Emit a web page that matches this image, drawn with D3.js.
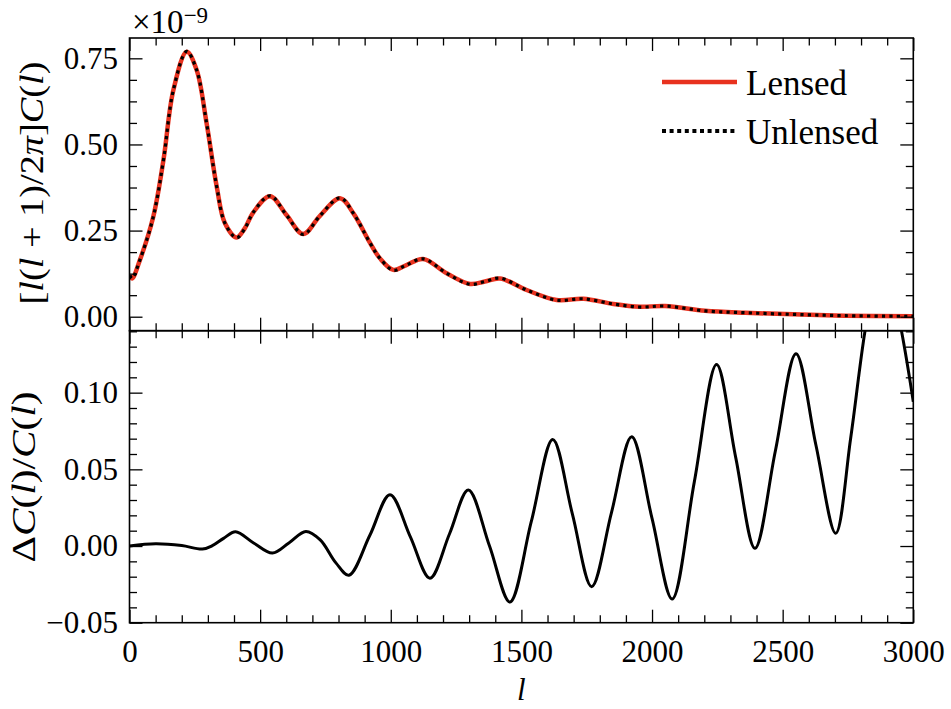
<!DOCTYPE html>
<html>
<head>
<meta charset="utf-8">
<script src="https://cdn.jsdelivr.net/npm/d3@7"></script>
<style>
  html, body { margin: 0; padding: 0; background: #fff; }
  svg { display: block; }
  text { font-family: "Liberation Serif", "Times New Roman", serif; fill: #000; }
</style>
</head>
<body>
<svg id="chart" width="951" height="709"></svg>
<script>
// ---------------- data ----------------
// upper panel: l(l+1)C(l)/2pi in units of 1e-9
const lTop = [2, 10, 40, 91, 130, 168, 219, 257, 295, 334, 365, 410, 440, 474, 538, 601, 665, 729, 806, 857, 920, 958, 1010, 1060, 1124, 1214, 1303, 1360, 1418, 1520, 1635, 1737, 1852, 1954, 2050, 2203, 2356, 2509, 2738, 3000];
const lensedValues = [0.120, 0.111, 0.165, 0.290, 0.455, 0.658, 0.769, 0.716, 0.562, 0.377, 0.272, 0.230, 0.255, 0.303, 0.350, 0.295, 0.240, 0.293, 0.344, 0.300, 0.215, 0.170, 0.136, 0.150, 0.1675, 0.126, 0.095, 0.102, 0.111, 0.0775, 0.0485, 0.052, 0.037, 0.029, 0.031, 0.0175, 0.0116, 0.0078, 0.003, 0.001];
const unlensedValues = [0.120, 0.111, 0.165, 0.290, 0.455, 0.658, 0.770, 0.716, 0.562, 0.377, 0.272, 0.229, 0.254, 0.303, 0.351, 0.295, 0.239, 0.293, 0.345, 0.300, 0.215, 0.170, 0.135, 0.150, 0.168, 0.126, 0.094, 0.102, 0.112, 0.0775, 0.0480, 0.052, 0.037, 0.028, 0.031, 0.0170, 0.0116, 0.0075, 0.003, 0.001];

// lower panel: relative difference Delta C(l)/C(l)
const lBot = [0, 100, 200, 279, 317, 360, 406, 475, 547, 610, 675, 730, 790, 840, 920, 997, 1075, 1150, 1225, 1297, 1378, 1456, 1538, 1620, 1695, 1769, 1845, 1922, 2000, 2077, 2162, 2247, 2320, 2394, 2472, 2551, 2627, 2703, 2760, 2815, 2880, 2955, 3000];
const deltaValues = [0.0, 0.0015, 0.0003, -0.002, 0.0002, 0.005, 0.0093, 0.002, -0.0046, 0.002, 0.0095, 0.004, -0.011, -0.019, 0.007, 0.0335, 0.006, -0.021, 0.008, 0.0365, 0.0, -0.0365, 0.016, 0.0695, 0.021, -0.0265, 0.022, 0.0713, 0.018, -0.0345, 0.042, 0.1183, 0.058, -0.0015, 0.062, 0.1254, 0.066, 0.0083, 0.070, 0.140, 0.200, 0.140, 0.094];

// ticks
const xMajorTicks = [0, 500, 1000, 1500, 2000, 2500, 3000];
const xMinorTicks = [100, 200, 300, 400, 600, 700, 800, 900, 1100, 1200, 1300, 1400, 1600, 1700, 1800, 1900, 2100, 2200, 2300, 2400, 2600, 2700, 2800, 2900];
const yTopMajorTicks = [0, 0.25, 0.5, 0.75];
const yTopMinorTicks = [0.0625, 0.125, 0.1875, 0.3125, 0.375, 0.4375, 0.5625, 0.625, 0.6875];
const yBotMajorTicks = [-0.05, 0, 0.05, 0.10];
const yBotMinorTicks = [-0.04, -0.03, -0.02, -0.01, 0.01, 0.02, 0.03, 0.04, 0.06, 0.07, 0.08, 0.09, 0.11, 0.12, 0.13, 0.14];

const seriesNames = ["Lensed", "Unlensed"];
const seriesColors = ["#e8321f", "#000000"];

// ---------------- layout ----------------
const svg = d3.select("#chart");
const X0 = 129.5, X1 = 913.3;
const TOP0 = 38, MID = 330.7, BOT1 = 622.7;
const MAJ = 13, MIN = 7.5;

const x = d3.scaleLinear().domain([0, 3000]).range([X0, X1]);
const yTop = d3.scaleLinear().domain([-0.0406, 0.809]).range([MID, TOP0]);
const yBot = d3.scaleLinear().domain([-0.05, 0.1404]).range([BOT1, MID]);

const defs = svg.append("defs");
defs.append("clipPath").attr("id", "clipTop").append("rect")
  .attr("x", X0).attr("y", TOP0).attr("width", X1 - X0).attr("height", MID - TOP0);
defs.append("clipPath").attr("id", "clipBot").append("rect")
  .attr("x", X0).attr("y", MID).attr("width", X1 - X0).attr("height", BOT1 - MID);

// ---------------- curves ----------------
const topData = lTop.map((l, i) => ({l, a: lensedValues[i], b: unlensedValues[i]}));
const botData = lBot.map((l, i) => ({l, v: deltaValues[i]}));

const curve = d3.curveCatmullRom.alpha(0.5);
const lineLensed = d3.line().x(d => x(d.l)).y(d => yTop(d.a)).curve(curve);
const lineUnlensed = d3.line().x(d => x(d.l)).y(d => yTop(d.b)).curve(curve);
const lineDelta = d3.line().x(d => x(d.l)).y(d => yBot(d.v)).curve(curve);

const gTop = svg.append("g").attr("clip-path", "url(#clipTop)");
gTop.append("path").datum(topData).attr("d", lineLensed)
  .attr("fill", "none").attr("stroke", seriesColors[0]).attr("stroke-width", 4.5)
  .attr("stroke-linejoin", "round");
gTop.append("path").datum(topData).attr("d", lineUnlensed)
  .attr("fill", "none").attr("stroke", seriesColors[1]).attr("stroke-width", 3.2)
  .attr("stroke-dasharray", "3.2,4.2");

svg.append("g").attr("clip-path", "url(#clipBot)")
  .append("path").datum(botData).attr("d", lineDelta)
  .attr("fill", "none").attr("stroke", "#000").attr("stroke-width", 3)
  .attr("stroke-linejoin", "round");

// ---------------- axes ----------------
function styleAxis(g) {
  g.select(".domain").remove();
  g.selectAll(".tick line").attr("stroke", "#000").attr("stroke-width", 1.3);
  g.attr("font-family", null).attr("font-size", null);
  return g;
}
function addAxis(axisFn, scale, ticks, size, transform, labelled, fmt, pad) {
  const ax = axisFn(scale).tickValues(ticks).tickSize(-size).tickPadding(pad || 0);
  ax.tickFormat(labelled ? fmt : () => "");
  const g = svg.append("g").attr("transform", transform).call(ax);
  styleAxis(g);
  g.selectAll(".tick text").style("font-size", "31px").style("font-family", '"Liberation Serif", serif');
  return g;
}
const f2 = d3.format(".2f");

// top panel
addAxis(d3.axisLeft, yTop, yTopMajorTicks, MAJ, `translate(${X0},0)`, true, f2, 11.5);
addAxis(d3.axisLeft, yTop, yTopMinorTicks, MIN, `translate(${X0},0)`, false);
addAxis(d3.axisRight, yTop, yTopMajorTicks, MAJ, `translate(${X1},0)`, false);
addAxis(d3.axisRight, yTop, yTopMinorTicks, MIN, `translate(${X1},0)`, false);
addAxis(d3.axisTop, x, xMajorTicks, MAJ, `translate(0,${TOP0})`, false);
addAxis(d3.axisTop, x, xMinorTicks, MIN, `translate(0,${TOP0})`, false);
addAxis(d3.axisBottom, x, xMajorTicks, MAJ, `translate(0,${MID})`, false);
addAxis(d3.axisBottom, x, xMinorTicks, MIN, `translate(0,${MID})`, false);

// bottom panel
addAxis(d3.axisLeft, yBot, yBotMajorTicks, MAJ, `translate(${X0},0)`, true, f2, 11.5);
addAxis(d3.axisLeft, yBot, yBotMinorTicks, MIN, `translate(${X0},0)`, false);
addAxis(d3.axisRight, yBot, yBotMajorTicks, MAJ, `translate(${X1},0)`, false);
addAxis(d3.axisRight, yBot, yBotMinorTicks, MIN, `translate(${X1},0)`, false);
addAxis(d3.axisTop, x, xMajorTicks, MAJ, `translate(0,${MID})`, false);
addAxis(d3.axisTop, x, xMinorTicks, MIN, `translate(0,${MID})`, false);
addAxis(d3.axisBottom, x, xMajorTicks, MAJ, `translate(0,${BOT1})`, true, d3.format("d"), 17);
addAxis(d3.axisBottom, x, xMinorTicks, MIN, `translate(0,${BOT1})`, false);

// frames
[[TOP0, MID], [MID, BOT1]].forEach(([a, b]) => {
  svg.append("rect").attr("x", X0).attr("y", a).attr("width", X1 - X0).attr("height", b - a)
    .attr("fill", "none").attr("stroke", "#000").attr("stroke-width", 1.6);
});

// ---------------- labels ----------------
// offset text x10^-9
const off = svg.append("text").attr("x", 132).attr("y", 33).style("font-size", "33px");
off.append("tspan").text("×10");
off.append("tspan").attr("dy", -10).style("font-size", "23px").text("−9");

// y label top
const yl1 = svg.append("text")
  .attr("transform", "translate(43,183) rotate(-90)")
  .attr("text-anchor", "middle")
  .attr("textLength", 243).attr("lengthAdjust", "spacingAndGlyphs")
  .style("font-size", "34px");
yl1.append("tspan").text("[");
yl1.append("tspan").style("font-style", "italic").text("l");
yl1.append("tspan").text("(");
yl1.append("tspan").style("font-style", "italic").text("l");
yl1.append("tspan").text(" + 1)/2");
yl1.append("tspan").style("font-style", "italic").text("π");
yl1.append("tspan").text("]");
yl1.append("tspan").style("font-style", "italic").text("C");
yl1.append("tspan").text("(");
yl1.append("tspan").style("font-style", "italic").text("l");
yl1.append("tspan").text(")");

// y label bottom
const yl2 = svg.append("text")
  .attr("transform", "translate(35,477) rotate(-90)")
  .attr("text-anchor", "middle")
  .attr("textLength", 171).attr("lengthAdjust", "spacingAndGlyphs")
  .style("font-size", "34px");
yl2.append("tspan").text("Δ");
yl2.append("tspan").style("font-style", "italic").text("C");
yl2.append("tspan").text("(");
yl2.append("tspan").style("font-style", "italic").text("l");
yl2.append("tspan").text(")/");
yl2.append("tspan").style("font-style", "italic").text("C");
yl2.append("tspan").text("(");
yl2.append("tspan").style("font-style", "italic").text("l");
yl2.append("tspan").text(")");

// x label
svg.append("text").attr("x", x(1500)).attr("y", 700).attr("text-anchor", "middle")
  .style("font-size", "31px").style("font-style", "italic").text("l");

// ---------------- legend ----------------
const legY = [82, 131];
const leg = svg.append("g");
seriesNames.forEach((name, i) => {
  const ln = leg.append("line").attr("x1", 662).attr("x2", 737)
    .attr("y1", legY[i]).attr("y2", legY[i])
    .attr("stroke", seriesColors[i]);
  if (i === 0) ln.attr("stroke-width", 4.5);
  else ln.attr("stroke-width", 4).attr("stroke-dasharray", "4,3.6");
  leg.append("text").attr("x", 746).attr("y", legY[i] + 12.5)
    .style("font-size", "35px").text(name);
});
</script>
</body>
</html>
